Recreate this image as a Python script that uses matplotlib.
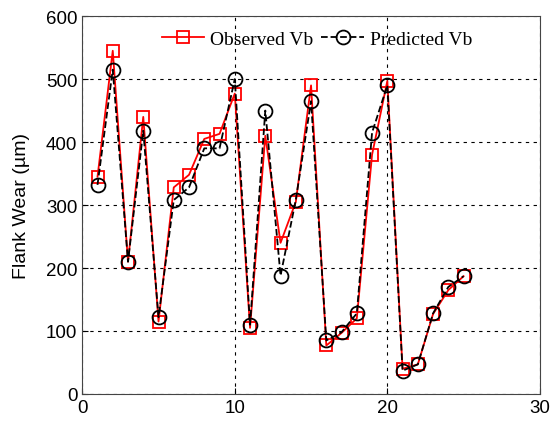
import matplotlib
matplotlib.use("Agg")
import matplotlib.pyplot as plt

# run number 1..25
runs = list(range(1, 26))
observed_vb = [345, 545, 210, 440, 115, 328, 348, 405, 413, 477,
               105, 410, 240, 305, 490, 77, 97, 120, 380, 497,
               40, 47, 127, 165, 187]
predicted_vb = [332, 515, 210, 418, 122, 308, 328, 390, 390, 500,
                110, 450, 188, 308, 465, 85, 98, 128, 415, 490,
                37, 47, 128, 170, 187]

plt.rcParams.update({"font.family": ["Liberation Sans", "DejaVu Sans"]})

fig = plt.figure(figsize=(5.52, 4.27), dpi=100)
ax = fig.add_axes([0.149, 0.075, 0.829, 0.885])

ax.plot(runs, observed_vb, color="red", lw=1.3, marker="s", ms=9,
        mfc="none", mec="red", mew=1.3, label="Observed Vb")
ax.plot(runs, predicted_vb, color="black", lw=1.3, ls="--", marker="o", ms=10,
        mfc="none", mec="black", mew=1.3, label="Predicted Vb")

ax.set_xlim(0, 30)
ax.set_ylim(0, 600)
ax.set_xticks([0, 10, 20, 30])
ax.set_yticks(range(0, 601, 100))
ax.tick_params(labelsize=13.5, direction="in", length=4)
ax.grid(True, color="black", ls=(0, (3, 4)), lw=0.8)
ax.set_ylabel("Flank Wear (\u00b5m)", fontsize=14)
ax.yaxis.set_label_coords(-0.115, 0.5)
for s in ax.spines.values():
    s.set_color("#444444")

ax.legend(loc="center left", bbox_to_anchor=(0.135, 0.939), ncol=2, frameon=False,
          handlelength=2.2, columnspacing=0.4, handletextpad=0.3,
          prop={"family": "Liberation Serif", "size": 14})

fig.savefig("out.png", dpi=100)
